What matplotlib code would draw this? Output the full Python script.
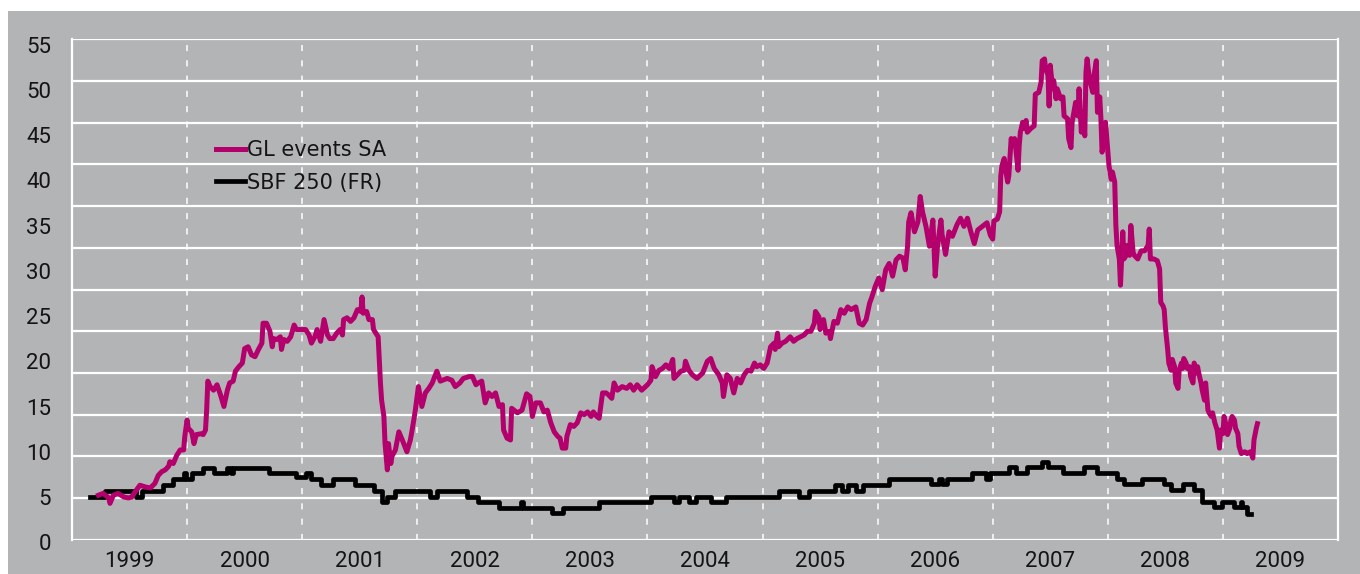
import numpy as np
import matplotlib
matplotlib.use('Agg')
import matplotlib.pyplot as plt
from matplotlib.patches import Rectangle

# year labels and value labels on the axes
years = list(range(1999, 2010))
y_labels = list(range(0, 60, 5))

# GL events SA share price (decimal year, EUR)
gl_t = [1999.23, 1999.27, 1999.32, 1999.33, 1999.36, 1999.40, 1999.45, 1999.49, 1999.52, 1999.55,
        1999.59, 1999.64, 1999.68, 1999.72, 1999.75, 1999.78, 1999.81, 1999.84, 1999.85, 1999.88,
        1999.91, 1999.94, 1999.97, 1999.98, 2000.00, 2000.01, 2000.04, 2000.06, 2000.08, 2000.13,
        2000.14, 2000.16, 2000.17, 2000.18, 2000.20, 2000.23, 2000.26, 2000.29, 2000.32, 2000.35,
        2000.37, 2000.40, 2000.42, 2000.45, 2000.48, 2000.50, 2000.53, 2000.56, 2000.59, 2000.62,
        2000.65, 2000.66, 2000.69, 2000.72, 2000.74, 2000.75, 2000.78, 2000.81, 2000.82, 2000.84,
        2000.87, 2000.90, 2000.93, 2000.95, 2001.03, 2001.06, 2001.08, 2001.11, 2001.13, 2001.16,
        2001.19, 2001.22, 2001.24, 2001.27, 2001.30, 2001.33, 2001.35, 2001.36, 2001.39, 2001.42,
        2001.45, 2001.48, 2001.51, 2001.52, 2001.53, 2001.56, 2001.58, 2001.61, 2001.62, 2001.65,
        2001.66, 2001.68, 2001.69, 2001.71, 2001.72, 2001.74, 2001.75, 2001.77, 2001.78, 2001.81,
        2001.84, 2001.87, 2001.91, 2001.94, 2001.95, 2001.98, 2002.01, 2002.04, 2002.07, 2002.10,
        2002.13, 2002.17, 2002.20, 2002.26, 2002.30, 2002.33, 2002.37, 2002.40, 2002.45, 2002.48,
        2002.51, 2002.53, 2002.56, 2002.59, 2002.62, 2002.65, 2002.68, 2002.71, 2002.74, 2002.75,
        2002.78, 2002.81, 2002.82, 2002.87, 2002.91, 2002.95, 2002.98, 2003.00, 2003.03, 2003.07,
        2003.10, 2003.13, 2003.16, 2003.19, 2003.22, 2003.24, 2003.26, 2003.29, 2003.30, 2003.33,
        2003.36, 2003.39, 2003.42, 2003.45, 2003.48, 2003.51, 2003.53, 2003.56, 2003.58, 2003.61,
        2003.64, 2003.66, 2003.69, 2003.71, 2003.74, 2003.78, 2003.82, 2003.85, 2003.88, 2003.91,
        2003.95, 2004.00, 2004.03, 2004.04, 2004.07, 2004.10, 2004.13, 2004.16, 2004.19, 2004.22,
        2004.23, 2004.26, 2004.29, 2004.32, 2004.33, 2004.36, 2004.39, 2004.43, 2004.48, 2004.52,
        2004.55, 2004.58, 2004.62, 2004.65, 2004.66, 2004.69, 2004.72, 2004.75, 2004.78, 2004.81,
        2004.84, 2004.87, 2004.90, 2004.93, 2004.95, 2004.98, 2005.01, 2005.04, 2005.07, 2005.10,
        2005.11, 2005.13, 2005.14, 2005.17, 2005.20, 2005.24, 2005.27, 2005.30, 2005.33, 2005.36,
        2005.39, 2005.42, 2005.45, 2005.46, 2005.49, 2005.50, 2005.53, 2005.55, 2005.58, 2005.59,
        2005.62, 2005.65, 2005.68, 2005.71, 2005.74, 2005.77, 2005.81, 2005.84, 2005.87, 2005.90,
        2005.93, 2005.95, 2005.98, 2006.01, 2006.04, 2006.07, 2006.10, 2006.13, 2006.16, 2006.19,
        2006.22, 2006.24, 2006.26, 2006.27, 2006.29, 2006.32, 2006.35, 2006.37, 2006.39, 2006.42,
        2006.45, 2006.48, 2006.50, 2006.52, 2006.55, 2006.56, 2006.59, 2006.62, 2006.65, 2006.69,
        2006.72, 2006.75, 2006.78, 2006.81, 2006.84, 2006.87, 2006.91, 2006.95, 2006.98, 2007.00,
        2007.01, 2007.04, 2007.06, 2007.07, 2007.08, 2007.10, 2007.11, 2007.13, 2007.14, 2007.16,
        2007.17, 2007.19, 2007.20, 2007.22, 2007.23, 2007.24, 2007.26, 2007.27, 2007.29, 2007.30,
        2007.33, 2007.36, 2007.37, 2007.40, 2007.42, 2007.43, 2007.45, 2007.46, 2007.48, 2007.49,
        2007.50, 2007.52, 2007.53, 2007.55, 2007.56, 2007.59, 2007.61, 2007.62, 2007.65, 2007.66,
        2007.68, 2007.69, 2007.72, 2007.74, 2007.75, 2007.77, 2007.78, 2007.80, 2007.81, 2007.82,
        2007.84, 2007.87, 2007.88, 2007.90, 2007.91, 2007.93, 2007.94, 2007.95, 2007.97, 2007.98,
        2008.01, 2008.03, 2008.04, 2008.06, 2008.07, 2008.08, 2008.10, 2008.11, 2008.13, 2008.14,
        2008.16, 2008.17, 2008.19, 2008.20, 2008.22, 2008.23, 2008.26, 2008.29, 2008.32, 2008.35,
        2008.36, 2008.37, 2008.40, 2008.43, 2008.45, 2008.46, 2008.48, 2008.49, 2008.50, 2008.52,
        2008.53, 2008.55, 2008.56, 2008.58, 2008.59, 2008.61, 2008.62, 2008.64, 2008.65, 2008.66,
        2008.68, 2008.69, 2008.71, 2008.72, 2008.74, 2008.75, 2008.77, 2008.78, 2008.79, 2008.81,
        2008.82, 2008.84, 2008.85, 2008.87, 2008.88, 2008.90, 2008.91, 2008.93, 2008.94, 2008.95,
        2008.97, 2008.98, 2009.00, 2009.01, 2009.03, 2009.04, 2009.06, 2009.07, 2009.08, 2009.10,
        2009.11, 2009.13, 2009.14, 2009.16, 2009.19, 2009.21, 2009.24, 2009.26, 2009.27, 2009.29,
        2009.30]
gl_v = [5.5, 5.7, 5.2, 4.6, 5.5, 5.7, 5.3, 5.2, 5.3, 5.9,
        6.6, 6.4, 6.3, 6.8, 7.7, 8.1, 8.3, 8.7, 9.2, 9.0,
        9.9, 10.5, 10.5, 12.0, 13.8, 12.9, 12.5, 11.2, 12.2, 12.3,
        12.2, 12.7, 14.9, 18.1, 17.5, 17.1, 17.7, 16.6, 15.3, 17.1,
        17.9, 18.1, 19.2, 19.7, 20.1, 21.7, 21.9, 21.0, 20.8, 21.6,
        22.3, 24.5, 24.5, 23.6, 21.9, 22.8, 22.7, 23.0, 21.6, 22.7,
        22.5, 23.0, 24.3, 23.8, 23.8, 23.2, 22.3, 23.0, 23.8, 22.5,
        24.9, 23.2, 22.8, 22.8, 23.4, 23.8, 23.2, 24.9, 25.1, 24.7,
        25.1, 26.0, 25.8, 27.4, 25.6, 25.8, 24.9, 24.9, 23.8, 23.2,
        23.0, 17.9, 16.0, 14.2, 11.2, 8.3, 11.2, 9.0, 9.8, 10.5,
        12.5, 11.6, 10.3, 11.6, 12.3, 14.6, 17.5, 15.3, 16.8, 17.3,
        17.9, 19.2, 18.1, 18.4, 18.2, 17.5, 17.9, 18.4, 18.6, 18.6,
        17.7, 17.9, 18.1, 15.7, 16.8, 16.4, 16.8, 15.3, 15.5, 12.7,
        11.8, 11.6, 15.1, 14.6, 14.9, 16.7, 16.4, 14.2, 15.7, 15.7,
        14.7, 14.9, 13.5, 12.5, 12.0, 11.8, 10.7, 10.7, 12.0, 13.3,
        13.1, 13.5, 14.6, 14.4, 14.7, 14.2, 14.7, 14.2, 14.0, 16.8,
        16.8, 16.6, 16.2, 17.9, 17.1, 17.5, 17.3, 17.7, 17.1, 17.7,
        17.1, 17.7, 18.2, 19.7, 18.6, 19.3, 19.5, 19.9, 19.5, 20.5,
        18.4, 18.8, 19.2, 19.3, 20.3, 19.3, 18.8, 18.4, 19.0, 20.3,
        20.6, 19.5, 18.8, 17.9, 16.4, 18.8, 18.4, 16.8, 18.4, 17.9,
        18.8, 19.3, 19.2, 20.1, 19.7, 19.9, 19.5, 20.1, 21.9, 22.3,
        21.6, 23.4, 21.9, 22.3, 22.5, 23.0, 22.5, 22.8, 23.0, 23.2,
        23.6, 23.6, 24.5, 25.8, 25.2, 23.8, 24.9, 23.4, 23.6, 22.8,
        24.7, 24.5, 26.0, 25.6, 26.3, 26.0, 26.3, 24.5, 24.3, 24.9,
        26.7, 27.4, 28.6, 29.5, 28.2, 30.4, 31.1, 29.7, 31.5, 31.9,
        31.7, 30.4, 33.0, 35.7, 36.7, 34.6, 35.7, 38.5, 36.8, 35.2,
        33.0, 35.9, 29.7, 33.0, 35.9, 34.3, 32.1, 34.6, 34.1, 35.4,
        36.1, 35.2, 36.1, 34.6, 33.3, 34.8, 35.2, 35.6, 34.2, 33.8,
        35.8, 36.0, 36.8, 40.8, 41.9, 42.7, 41.6, 40.1, 40.8, 44.9,
        44.5, 44.9, 43.8, 41.4, 44.1, 45.6, 46.7, 46.0, 46.9, 45.6,
        46.0, 46.3, 49.8, 50.0, 51.1, 53.5, 53.7, 52.6, 51.9, 48.5,
        53.0, 50.4, 51.3, 49.3, 50.4, 49.3, 49.5, 47.4, 47.1, 44.9,
        43.9, 46.7, 48.9, 47.4, 50.4, 45.6, 47.8, 45.2, 52.2, 53.7,
        51.5, 50.0, 51.9, 53.5, 47.8, 49.5, 47.1, 43.4, 44.9, 46.7,
        41.9, 40.4, 41.2, 40.1, 35.3, 33.1, 31.6, 28.7, 34.6, 31.6,
        32.0, 33.1, 32.0, 35.3, 32.3, 32.0, 31.6, 32.5, 32.5, 33.1,
        34.9, 31.6, 31.6, 31.4, 30.5, 26.8, 26.4, 26.0, 24.1, 21.6,
        20.1, 19.3, 20.5, 19.7, 17.9, 17.3, 19.3, 20.1, 19.5, 20.6,
        20.1, 19.5, 19.7, 18.6, 17.9, 20.1, 19.0, 19.7, 19.0, 17.9,
        17.1, 16.0, 17.9, 14.9, 14.6, 14.2, 14.6, 13.5, 13.1, 12.7,
        10.7, 12.7, 12.3, 14.2, 13.1, 12.2, 12.9, 13.8, 14.2, 13.8,
        12.9, 12.3, 10.9, 10.1, 10.3, 10.1, 10.3, 9.6, 11.6, 12.9,
        13.4]

# SBF 250 rebased on the same start value, drawn as steps
sbf_t = [1999.16, 1999.29, 1999.56, 1999.61, 1999.79, 1999.88, 1999.97, 1999.99, 2000.04, 2000.14,
         2000.23, 2000.35, 2000.38, 2000.40, 2000.71, 2000.95, 2001.03, 2001.08, 2001.16, 2001.27,
         2001.46, 2001.62, 2001.69, 2001.74, 2001.81, 2002.11, 2002.17, 2002.43, 2002.53, 2002.71,
         2002.90, 2002.92, 2003.17, 2003.27, 2003.58, 2004.03, 2004.23, 2004.27, 2004.36, 2004.42,
         2004.55, 2004.68, 2005.14, 2005.32, 2005.40, 2005.63, 2005.69, 2005.74, 2005.81, 2005.87,
         2006.10, 2006.46, 2006.53, 2006.56, 2006.60, 2006.82, 2006.94, 2006.98, 2007.14, 2007.20,
         2007.30, 2007.43, 2007.48, 2007.61, 2007.79, 2007.91, 2008.08, 2008.14, 2008.30, 2008.49,
         2008.55, 2008.65, 2008.75, 2008.82, 2008.92, 2008.99, 2009.10, 2009.16, 2009.17, 2009.21,
         2009.24]
sbf_v = [5.3, 6.0, 5.3, 6.0, 6.6, 7.3, 8.0, 7.3, 8.0, 8.5,
         8.0, 8.5, 8.0, 8.5, 8.0, 7.5, 8.0, 7.3, 6.6, 7.3,
         6.6, 6.0, 4.7, 5.3, 6.0, 5.3, 6.0, 5.3, 4.7, 4.1,
         4.7, 4.1, 3.5, 4.1, 4.7, 5.3, 4.7, 5.3, 4.7, 5.3,
         4.7, 5.3, 6.0, 5.3, 6.0, 6.6, 6.0, 6.6, 6.0, 6.6,
         7.3, 6.7, 7.3, 6.7, 7.3, 8.0, 7.3, 8.0, 8.6, 8.0,
         8.6, 9.2, 8.6, 8.0, 8.6, 8.0, 7.3, 6.7, 7.3, 6.7,
         6.1, 6.7, 6.1, 4.8, 4.2, 4.8, 4.2, 4.8, 4.2, 3.4,
         3.4]

gray = '#b3b4b6'
magenta = '#b4006c'
txt_color = '#141414'

fig = plt.figure(figsize=(13.6, 5.74), dpi=100, facecolor='white')
# grey panel, leaving a thin white margin on the top and left
fig.patches.append(Rectangle((8 / 1360, 0), 1, 1 - 11 / 574, transform=fig.transFigure,
                             facecolor=gray, edgecolor='none', zorder=-10))

ax = fig.add_axes([72 / 1360, 34 / 574, 1266 / 1360, 501 / 574])
ax.set_facecolor(gray)
ax.set_xlim(1999, 2010)
ylo, yhi = 0.55, 55.9
ax.set_ylim(ylo, yhi)

# white horizontal grid (12 bands) and dashed year separators
for g in np.linspace(ylo, yhi, 13):
    ax.axhline(g, color='white', lw=1.6, zorder=1)
for yr in years[1:]:
    ax.axvline(yr, color='white', lw=1.1, dashes=(4, 6), zorder=1)

for side in ['left', 'right']:
    ax.spines[side].set_color('white')
    ax.spines[side].set_linewidth(1.6)
for side in ['top', 'bottom']:
    ax.spines[side].set_visible(False)
ax.set_xticks([])
ax.set_yticks([])

for v in y_labels:
    ax.text(-0.0166, v, str(v), transform=ax.get_yaxis_transform(), ha='right', va='center',
            fontsize=16, family='Roboto', color=txt_color)
for yr in years:
    ax.text(yr + 0.5, -0.042, str(yr), transform=ax.get_xaxis_transform(), ha='center', va='center',
            fontsize=16, family='Roboto', color=txt_color)

ax.plot(sbf_t, sbf_v, drawstyle='steps-post', color='black', lw=3.4, zorder=3, label='SBF 250 (FR)')
ax.plot(gl_t, gl_v, color=magenta, lw=3.6, zorder=4, solid_joinstyle='round', label='GL events SA')

handles, labels = ax.get_legend_handles_labels()
ax.legend(handles[::-1], labels[::-1], loc='upper left', bbox_to_anchor=(0.1137, 0.798),
          frameon=False, borderpad=0, borderaxespad=0, handlelength=1.4, handletextpad=0.1,
          labelspacing=0.6, prop={'family': 'DejaVu Sans', 'size': 15}, labelcolor=txt_color)

fig.savefig('out.png', dpi=100, facecolor='white')
